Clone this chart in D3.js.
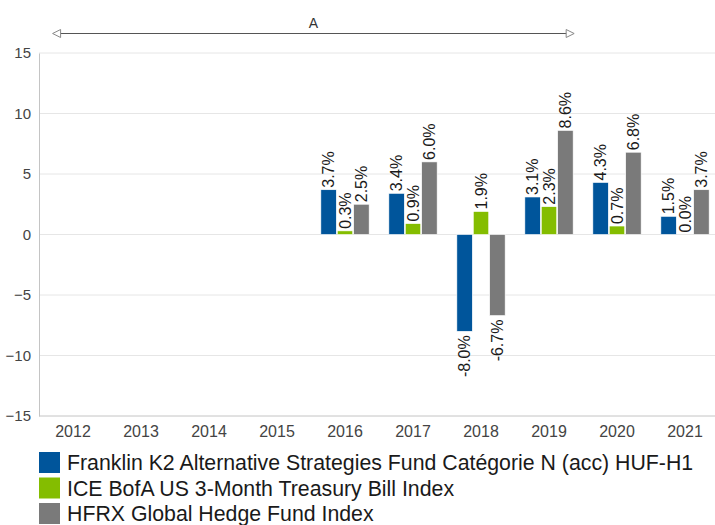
<!DOCTYPE html>
<html lang="en">
  <head>
    <meta charset="utf-8" />
    <title>Calendar Year Returns</title>
    <script src="https://d3js.org/d3.v7.min.js"></script>
    <style type="text/css">
      body { margin: 0; background: #fff; }
      text { font-family: Arial, 'Liberation Sans', sans-serif; }
    </style>
  </head>
  <body>
    <script type="text/javascript">
      // data (percent)
      const years = ['2012', '2013', '2014', '2015', '2016', '2017', '2018', '2019', '2020', '2021'];
      const seriesNames = [
        'Franklin K2 Alternative Strategies Fund Catégorie N (acc) HUF-H1',
        'ICE BofA US 3-Month Treasury Bill Index',
        'HFRX Global Hedge Fund Index'
      ];
      const fundValues = [null, null, null, null, 3.7, 3.4, -8.0, 3.1, 4.3, 1.5];
      const tbillValues = [null, null, null, null, 0.3, 0.9, 1.9, 2.3, 0.7, 0.0];
      const hfrxValues = [null, null, null, null, 2.5, 6.0, -6.7, 8.6, 6.8, 3.7];
      const colours = ['#00559b', '#84bd00', '#7a7a7a'];
      const yTicks = [-15, -10, -5, 0, 5, 10, 15];
      // period annotation "A", in fractional years
      const periodLabel = 'A';
      const periodStart = 2012.2;
      const periodEnd = 2019.87;

      const w = 715;
      const h = 525;
      const margin = { top: 53, left: 39, right: -4, bottom: 109 };

      const svg = d3.select('body').append('svg').attr('width', w).attr('height', h);

      const x0 = d3
        .scaleBand()
        .domain(years)
        .range([margin.left, w - margin.right]);

      const x1 = d3
        .scaleBand()
        .domain([0, 1, 2])
        .range([0, x0.bandwidth()])
        .paddingInner(0.06)
        .paddingOuter(0.6);

      const y = d3
        .scaleLinear()
        .domain([-15, 15])
        .range([h - margin.bottom, margin.top]);

      // gridlines
      svg
        .append('g')
        .selectAll('line')
        .data(yTicks)
        .enter()
        .append('line')
        .attr('x1', margin.left)
        .attr('x2', w)
        .attr('y1', d => y(d))
        .attr('y2', d => y(d))
        .attr('stroke', d => (d === -15 ? '#c4c4c4' : '#e6e6e6'))
        .attr('stroke-width', 1);

      // y axis
      const yAxis = d3.axisLeft(y).tickValues(yTicks).tickSize(0).tickPadding(8);
      const gy = svg
        .append('g')
        .attr('transform', `translate(${margin.left},0)`)
        .call(yAxis);
      gy.select('.domain').attr('stroke', '#c4c4c4');
      gy.selectAll('text')
        .attr('font-size', 15)
        .attr('fill', '#444')
        .attr('font-family', 'Arial, Liberation Sans, sans-serif');

      // x axis
      const xAxis = d3.axisBottom(x0).tickSize(0).tickPadding(10);
      const gx = svg
        .append('g')
        .attr('transform', `translate(0,${h - margin.bottom})`)
        .call(xAxis);
      gx.select('.domain').remove();
      gx.selectAll('text')
        .attr('font-size', 16)
        .attr('fill', '#444')
        .attr('font-family', 'Arial, Liberation Sans, sans-serif');

      // bars
      const allSeries = [fundValues, tbillValues, hfrxValues];
      const barData = [];
      years.forEach((yr, i) => {
        allSeries.forEach((vals, s) => {
          if (vals[i] !== null) barData.push({ year: yr, s: s, v: vals[i] });
        });
      });

      svg
        .append('g')
        .selectAll('rect')
        .data(barData)
        .enter()
        .append('rect')
        .attr('x', d => x0(d.year) + x1(d.s))
        .attr('y', d => y(Math.max(0, d.v)))
        .attr('width', x1.bandwidth())
        .attr('height', d => Math.abs(y(d.v) - y(0)))
        .attr('fill', d => colours[d.s])
        .attr('stroke', '#fff')
        .attr('stroke-width', 0.6);

      // value labels, rotated
      svg
        .append('g')
        .selectAll('text')
        .data(barData)
        .enter()
        .append('text')
        .attr('transform', d => {
          const cx = x0(d.year) + x1(d.s) + x1.bandwidth() / 2;
          const cy = d.v >= 0 ? y(d.v) - 2 : y(d.v) + 4;
          return `translate(${cx},${cy}) rotate(-90)`;
        })
        .attr('text-anchor', d => (d.v >= 0 ? 'start' : 'end'))
        .attr('dy', '0.36em')
        .attr('font-size', 16)
        .attr('fill', '#1a1a1a')
        .text(d => d.v.toFixed(1) + '%');

      // period annotation
      const xYear = d3
        .scaleLinear()
        .domain([+years[0], +years[years.length - 1] + 1])
        .range([margin.left, w - margin.right]);
      const ay = 33.5;
      const ax1 = xYear(periodStart);
      const ax2 = xYear(periodEnd);
      const ann = svg.append('g');
      ann
        .append('line')
        .attr('x1', ax1 + 7)
        .attr('x2', ax2 - 7)
        .attr('y1', ay)
        .attr('y2', ay)
        .attr('stroke', '#555')
        .attr('stroke-width', 1);
      ann
        .append('path')
        .attr('d', d3.line()([[ax1, ay], [ax1 + 8, ay - 4], [ax1 + 8, ay + 4]]) + 'Z')
        .attr('fill', '#fff')
        .attr('stroke', '#888');
      ann
        .append('path')
        .attr('d', d3.line()([[ax2, ay], [ax2 - 8, ay - 4], [ax2 - 8, ay + 4]]) + 'Z')
        .attr('fill', '#fff')
        .attr('stroke', '#888');
      ann
        .append('text')
        .attr('x', (ax1 + ax2) / 2)
        .attr('y', ay - 6)
        .attr('text-anchor', 'middle')
        .attr('font-size', 14)
        .attr('fill', '#333')
        .text(periodLabel);

      // legend
      const legend = svg
        .append('g')
        .selectAll('g')
        .data(seriesNames)
        .enter()
        .append('g')
        .attr('transform', (d, i) => `translate(39,${452 + i * 25.5})`);
      legend
        .append('rect')
        .attr('width', 21)
        .attr('height', 21)
        .attr('fill', (d, i) => colours[i]);
      legend
        .append('text')
        .attr('x', 28)
        .attr('y', 18)
        .attr('font-size', 21.3)
        .attr('fill', '#1a1a1a')
        .text(d => d);
    </script>
  </body>
</html>
